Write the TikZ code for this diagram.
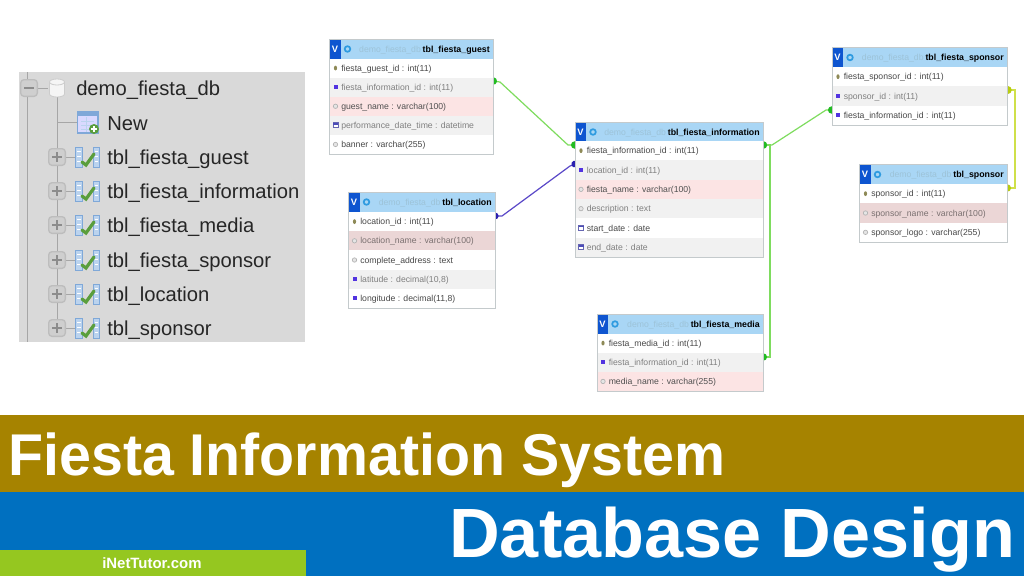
\documentclass[tikz,border=0pt]{standalone}
\usepackage{fontspec}
\setmainfont{Liberation Sans}
\usetikzlibrary{arrows.meta}
\pgfdeclarelayer{base}\pgfdeclarelayer{conn}\pgfsetlayers{base,conn,main}
\definecolor{bgw}{HTML}{FFFFFF}\definecolor{fgw}{HTML}{484848}
\definecolor{bgg}{HTML}{F1F1F1}\definecolor{fgg}{HTML}{808080}
\definecolor{bgp}{HTML}{FCE4E4}\definecolor{fgp}{HTML}{505050}
\definecolor{bgq}{HTML}{EBD6D6}\definecolor{fgq}{HTML}{7A7070}
\definecolor{hdr}{HTML}{A9D6F5}\definecolor{frame}{HTML}{C4CACC}
\definecolor{vblue}{HTML}{0E55D0}\definecolor{demo}{HTML}{9DC3D8}
\definecolor{ringb}{HTML}{2F9BE0}
\definecolor{lgreen}{HTML}{7EDC5E}\definecolor{dgreen}{HTML}{22BB22}
\definecolor{lblue}{HTML}{5A48C8}\definecolor{dblue}{HTML}{2A1FB0}
\definecolor{lyel}{HTML}{CFE04A}\definecolor{dyel}{HTML}{B8CC10}
\definecolor{gold}{HTML}{A68300}\definecolor{band}{HTML}{0070C0}\definecolor{lime}{HTML}{95C720}
\definecolor{panel}{HTML}{D9D9D9}\definecolor{tline}{HTML}{A6A6A6}\definecolor{ttext}{HTML}{262626}
\definecolor{expfill}{HTML}{CFCFCF}\definecolor{expline}{HTML}{BDBDBD}\definecolor{expsign}{HTML}{8C8C8C}
\definecolor{barblue}{HTML}{BBD3EE}\definecolor{barline}{HTML}{7FA8D8}\definecolor{chk}{HTML}{5A9E3C}
\tikzset{
  rowtext/.style={anchor=base west,inner sep=0pt,font=\fontsize{6.5}{7}\selectfont},
  tabletitle/.style={anchor=base east,inner sep=0pt,text=black,font=\fontsize{6.6}{7}\selectfont\bfseries},
  demotext/.style={anchor=base east,inner sep=0pt,text=demo,font=\fontsize{6.5}{7}\selectfont},
  tablebox/.style={draw=frame,line width=0.6pt,anchor=north west,inner sep=0pt,outer sep=0pt},
  treetext/.style={anchor=base west,inner sep=0pt,text=ttext,font=\fontsize{15.15}{16}\selectfont},
  treeline/.style={draw=tline,line width=0.7pt},
  expander/.style={draw=expline,fill=expfill,rounded corners=2.5pt,line width=1pt,minimum size=12.5pt,inner sep=0pt},
  banner/.style={anchor=base west,inner sep=0pt,text=white,font=\bfseries},
  dotted ends/.style={shorten <=-#1,shorten >=-#1},
  relgreen/.style={draw=lgreen,line width=0.9pt,dotted ends=2.5pt,{Circle[dgreen,length=5.5pt]}-{Circle[dgreen,length=5.5pt]}},
  relblue/.style={draw=lblue,line width=0.9pt,dotted ends=2.3pt,{Circle[dblue,length=5pt]}-{Circle[dblue,length=5pt]}},
  relyel/.style={draw=lyel,line width=0.9pt,dotted ends=2.5pt,{Circle[dyel,length=6pt]}-{Circle[dyel,length=5.5pt]}},
}
\newcommand\icokey[2]{\fill[black!45!olive!70!white] (#1,#2) ellipse (1.6 and 2.4);}
\newcommand\icofk[2]{\fill[blue!70!violet!80!white] (#1-2,#2-2) rectangle (#1+2,#2+2);}
\newcommand\icoidx[2]{\draw[black!30,fill=black!10,line width=0.5pt] (#1,#2) circle (2.2);}
\newcommand\icodate[2]{\draw[blue!50!black!60,fill=white,line width=0.6pt] (#1-2.5,#2-2.5) rectangle (#1+2.5,#2+2.5);\fill[blue!60!black!70] (#1-2.5,#2-2.5) rectangle (#1+2.5,#2-0.8);}
% id, x1, x2, ytop, yheader, ybottom, nrows, title, rows
\newcommand\dbtable[9]{%
  \pgfmathsetmacro\rowh{(#6-#5)/#7}%
  \fill[hdr] (#2,#4) rectangle (#3,#5);
  \fill[vblue] (#2,#4) rectangle (#2+11,#5);
  \node[anchor=center,inner sep=0pt,text=white,font=\fontsize{7}{8}\selectfont\bfseries] (#1-v) at (#2+5.5,#4+10) {V};
  \draw[ringb,line width=1.3pt] (#2+18,#4+10) circle (2.8);
  \node[tabletitle] (#1-title) at (#3-3,#4+13) {#8};
  \node[demotext] (#1-demo) at ([xshift=-1pt]#1-title.base west) {demo\_fiesta\_db};
  \foreach \bg/\ic/\txt [count=\ri] in {#9}{%
    \pgfmathsetmacro\ya{#5+(\ri-1)*\rowh}%
    \pgfmathsetmacro\yb{#5+\ri*\rowh}%
    \pgfmathsetmacro\yc{#5+(\ri-0.5)*\rowh}%
    \fill[bg\bg] (#2,\ya) rectangle (#3,\yb);
    \csname ico\ic\endcsname{#2+6}{\yc}
    \node[rowtext,text=fg\bg] (#1-r\ri) at (#2+11.5,\yc+3) {\txt};
  }
  \pgfmathsetmacro\tw{(#3-#2)*0.75}%
  \pgfmathsetmacro\th{(#6-#4)*0.75}%
  \node[tablebox,minimum width=\tw pt,minimum height=\th pt] (#1) at (#2,#4) {};
}
\newcommand\treerow[3]{%
  \draw[treeline] (57,#2) -- (75,#2);
  \node[expander] (#1-exp) at (57,#2) {};
  \draw[expsign,line width=1.7pt] (52,#2) -- (62,#2) (57,#2-5) -- (57,#2+5);
  \draw[barline,fill=barblue,line width=0.5pt] (75.5,#2-10) rectangle (82,#2+10);
  \draw[barline,fill=barblue,line width=0.5pt] (93,#2-10) rectangle (99,#2+10);
  \draw[white,line width=0.6pt] (77,#2-6) -- (80.5,#2-6) (77,#2-1) -- (80.5,#2-1) (77,#2+4) -- (80.5,#2+4) (94.5,#2-6) -- (97.5,#2-6) (94.5,#2-1) -- (97.5,#2-1) (94.5,#2+4) -- (97.5,#2+4);
  \draw[chk,line width=2.4pt,line cap=round] (82,#2+5) -- (86,#2+8) -- (94,#2-3);
  \node[treetext] (#1-txt) at (107,#2+7) {#3};
}
\begin{document}
\begin{tikzpicture}[x=0.75pt,y=-0.75pt]
\useasboundingbox (0,0) rectangle (1024,576);
\begin{pgfonlayer}{base}
\fill[white] (0,0) rectangle (1024,576);
\end{pgfonlayer}
% tree panel
\fill[panel] (19,72) rectangle (305,342);
\draw[treeline] (27,72) -- (27,342);
\draw[treeline] (57,95) -- (57,328);
\draw[treeline] (36,88) -- (48,88);
\node[expander] (root-exp) at (29,88) {};
\draw[expsign,line width=1.7pt] (24,88) -- (34,88);
\draw[black!20,fill=black!4,line width=0.6pt] (49.5,82) -- (49.5,94) arc[start angle=180,end angle=360,x radius=7.5,y radius=-3] -- (64.5,82) arc[start angle=0,end angle=360,x radius=7.5,y radius=-3];
\node[treetext] (root-txt) at (76,95) {demo\_fiesta\_db};
\draw[treeline] (57,122) -- (77,122);
\draw[barline,fill=white!85!blue,line width=0.8pt] (77.5,112) rectangle (98,133);
\fill[barline] (77.5,112) rectangle (98,116);
\draw[barblue,line width=0.5pt] (81,121) -- (94,121) (81,125) -- (94,125) (81,129) -- (94,129) (86,117) -- (86,132);
\fill[chk] (94,129) circle (5);
\draw[white,line width=0.9pt] (91,129) -- (97,129) (94,126) -- (94,132);
\node[treetext] (new-txt) at (107,130) {New};
\treerow{t1}{157}{tbl\_fiesta\_guest}
\treerow{t2}{191}{tbl\_fiesta\_information}
\treerow{t3}{225}{tbl\_fiesta\_media}
\treerow{t4}{260}{tbl\_fiesta\_sponsor}
\treerow{t5}{294}{tbl\_location}
\treerow{t6}{328}{tbl\_sponsor}
% tables
\dbtable{guest}{329.5}{493}{39}{58.5}{154}{5}{tbl\_fiesta\_guest}{w/key/fiesta\_guest\_id : int(11),g/fk/fiesta\_information\_id : int(11),p/idx/guest\_name : varchar(100),g/date/performance\_date\_time : datetime,w/idx/banner : varchar(255)}
\dbtable{info}{575}{763}{122}{141}{257}{6}{tbl\_fiesta\_information}{w/key/fiesta\_information\_id : int(11),g/fk/location\_id : int(11),p/idx/fiesta\_name : varchar(100),g/idx/description : text,w/date/start\_date : date,g/date/end\_date : date}
\dbtable{fsponsor}{832}{1007}{47.5}{67}{125}{3}{tbl\_fiesta\_sponsor}{w/key/fiesta\_sponsor\_id : int(11),g/fk/sponsor\_id : int(11),w/fk/fiesta\_information\_id : int(11)}
\dbtable{sponsor}{859.5}{1007}{164.5}{184}{242}{3}{tbl\_sponsor}{w/key/sponsor\_id : int(11),q/idx/sponsor\_name : varchar(100),w/idx/sponsor\_logo : varchar(255)}
\dbtable{location}{348.5}{495}{192}{212}{308}{5}{tbl\_location}{w/key/location\_id : int(11),q/idx/location\_name : varchar(100),w/idx/complete\_address : text,g/fk/latitude : decimal(10{,}8),w/fk/longitude : decimal(11{,}8)}
\dbtable{media}{597}{763}{314}{333.5}{391}{3}{tbl\_fiesta\_media}{w/key/fiesta\_media\_id : int(11),g/fk/fiesta\_information\_id : int(11),p/idx/media\_name : varchar(255)}
% connection ports on the table edges
\coordinate (guestP) at (guest.east |- 0,81);
\coordinate (infoPa) at (info.west |- 0,145);
\coordinate (infoPb) at (info.west |- 0,164);
\coordinate (infoPc) at (info.east |- 0,145);
\coordinate (locP) at (location.east |- 0,216);
\coordinate (fsP) at (fsponsor.west |- 0,110);
\coordinate (fsQ) at (fsponsor.east |- 0,90);
\coordinate (spP) at (sponsor.east |- 0,188);
\coordinate (medP) at (media.east |- 0,357);
% connectors, under the tables so that their end dots show by half
\begin{pgfonlayer}{conn}
\draw[relgreen] (guestP) -- ++(7,1) -- (568,145) -- (infoPa);
\draw[relblue] (locP) -- ++(7,0) -- (570,166) -- (infoPb);
\draw[relgreen] (infoPc) -- ++(9,0) -- (826,110) -- (fsP);
\draw[relgreen] (infoPc) -- ++(7,0) -- (770,357) -- (medP);
\draw[relyel] (fsQ) -- (1015,90) -- (1015,188) -- (spP);
\end{pgfonlayer}
% bottom bands
\fill[gold] (0,415) rectangle (1024,492);
\fill[band] (0,492) rectangle (1024,576);
\fill[lime] (0,550) rectangle (306,576);
\node[banner,font=\fontsize{44.2}{48}\selectfont\bfseries] (title1) at (8,475) {\scalebox{0.973}[1]{Fiesta Information System}};
\node[banner,font=\fontsize{52.3}{56}\selectfont\bfseries] (title2) at (449,557) {\scalebox{1.007}[1]{Database Design}};
\node[banner,font=\fontsize{11.2}{13}\selectfont\bfseries] (brand) at (102,568) {iNetTutor.com};
\end{tikzpicture}
\end{document}
